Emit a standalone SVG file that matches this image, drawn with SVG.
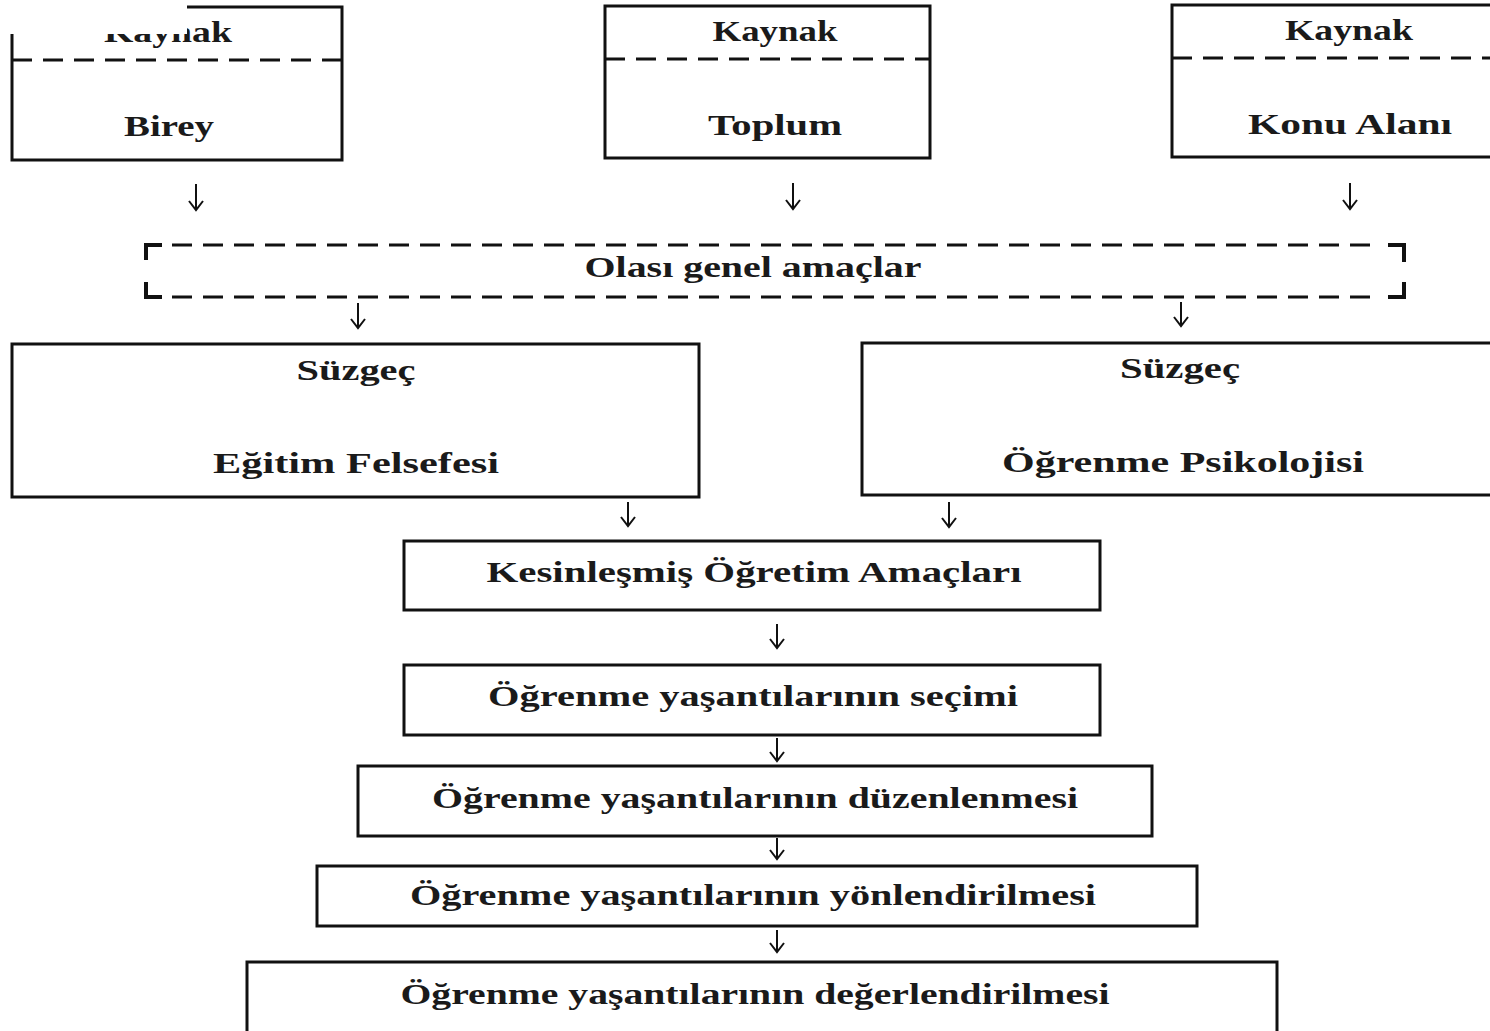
<svg xmlns="http://www.w3.org/2000/svg" width="1490" height="1031" viewBox="0 0 1490 1031">
<defs>
<style>
.box{fill:#fff;stroke:#111;stroke-width:3}
.dash{fill:none;stroke:#111;stroke-width:3;stroke-dasharray:20 11}
.t{font-family:"Liberation Serif","Times New Roman",serif;font-weight:bold;font-size:29px;fill:#1a1a1a;text-anchor:middle}
.arr{fill:none;stroke:#111;stroke-width:2}
</style>
<marker id="ah" markerWidth="12" markerHeight="16" refX="10" refY="8" orient="auto" markerUnits="userSpaceOnUse">
<path d="M1,1 L10,8 L1,15" fill="none" stroke="#111" stroke-width="2"/>
</marker>
</defs>
<rect width="1490" height="1031" fill="#fff"/>
<g id="kaynak-birey">
<rect class="box" x="12" y="7" width="330" height="153"/>
<line class="dash" x1="12" y1="60" x2="342" y2="60"/>
<text class="t" x="168" y="42" textLength="128" lengthAdjust="spacingAndGlyphs">Kaynak</text>
<text class="t" x="169" y="136" textLength="90" lengthAdjust="spacingAndGlyphs">Birey</text>
<rect x="0" y="0" width="187" height="34" fill="#fff"/>
</g>
<g id="kaynak-toplum">
<rect class="box" x="605" y="6" width="325" height="152"/>
<line class="dash" x1="605" y1="59" x2="930" y2="59"/>
<text class="t" x="775" y="41" textLength="125" lengthAdjust="spacingAndGlyphs">Kaynak</text>
<text class="t" x="775" y="135" textLength="134" lengthAdjust="spacingAndGlyphs">Toplum</text>
</g>
<g id="kaynak-konu">
<rect class="box" x="1172" y="5" width="330" height="152"/>
<line class="dash" x1="1172" y1="58" x2="1502" y2="58"/>
<text class="t" x="1349" y="40" textLength="128" lengthAdjust="spacingAndGlyphs">Kaynak</text>
<text class="t" x="1350" y="134" textLength="204" lengthAdjust="spacingAndGlyphs">Konu Alanı</text>
</g>
<g id="olasi">
<path class="dash" d="M172,245 H1380 M172,297 H1380"/>
<path d="M146,260 V245 H162 M146,282 V297 H162 M1388,245 H1404 V262 M1388,297 H1404 V282" fill="none" stroke="#111" stroke-width="4"/>
<text class="t" x="753" y="277" textLength="337" lengthAdjust="spacingAndGlyphs">Olası genel amaçlar</text>
</g>
<g id="suzgec-felsefe">
<rect class="box" x="12" y="344" width="687" height="153"/>
<text class="t" x="356" y="380" textLength="119" lengthAdjust="spacingAndGlyphs">Süzgeç</text>
<text class="t" x="356" y="473" textLength="286" lengthAdjust="spacingAndGlyphs">Eğitim Felsefesi</text>
</g>
<g id="suzgec-psikoloji">
<rect class="box" x="862" y="343" width="640" height="152"/>
<text class="t" x="1180" y="378" textLength="120" lengthAdjust="spacingAndGlyphs">Süzgeç</text>
<text class="t" x="1183" y="472" textLength="362" lengthAdjust="spacingAndGlyphs">Öğrenme Psikolojisi</text>
</g>
<g id="kesin">
<rect class="box" x="404" y="541" width="696" height="69"/>
<text class="t" x="754" y="582" textLength="535" lengthAdjust="spacingAndGlyphs">Kesinleşmiş Öğretim Amaçları</text>
</g>
<g id="secim">
<rect class="box" x="404" y="665" width="696" height="70"/>
<text class="t" x="753" y="706" textLength="530" lengthAdjust="spacingAndGlyphs">Öğrenme yaşantılarının seçimi</text>
</g>
<g id="duzen">
<rect class="box" x="358" y="766" width="794" height="70"/>
<text class="t" x="755" y="808" textLength="646" lengthAdjust="spacingAndGlyphs">Öğrenme yaşantılarının düzenlenmesi</text>
</g>
<g id="yonlendirme">
<rect class="box" x="317" y="866" width="880" height="60"/>
<text class="t" x="753" y="905" textLength="686" lengthAdjust="spacingAndGlyphs">Öğrenme yaşantılarının yönlendirilmesi</text>
</g>
<g id="degerlendirme">
<rect class="box" x="247" y="962" width="1030" height="80"/>
<text class="t" x="755" y="1004" textLength="709" lengthAdjust="spacingAndGlyphs">Öğrenme yaşantılarının değerlendirilmesi</text>
</g>
<g id="connectors">
<line class="arr" marker-end="url(#ah)" x1="196" y1="184" x2="196" y2="210"/>
<line class="arr" marker-end="url(#ah)" x1="793" y1="183" x2="793" y2="209"/>
<line class="arr" marker-end="url(#ah)" x1="1350" y1="183" x2="1350" y2="209"/>
<line class="arr" marker-end="url(#ah)" x1="358" y1="303" x2="358" y2="328"/>
<line class="arr" marker-end="url(#ah)" x1="1181" y1="302" x2="1181" y2="326"/>
<line class="arr" marker-end="url(#ah)" x1="628" y1="502" x2="628" y2="526"/>
<line class="arr" marker-end="url(#ah)" x1="949" y1="502" x2="949" y2="527"/>
<line class="arr" marker-end="url(#ah)" x1="777" y1="624" x2="777" y2="648"/>
<line class="arr" marker-end="url(#ah)" x1="777" y1="738" x2="777" y2="761"/>
<line class="arr" marker-end="url(#ah)" x1="777" y1="838" x2="777" y2="859"/>
<line class="arr" marker-end="url(#ah)" x1="777" y1="930" x2="777" y2="952"/>
</g>
</svg>
